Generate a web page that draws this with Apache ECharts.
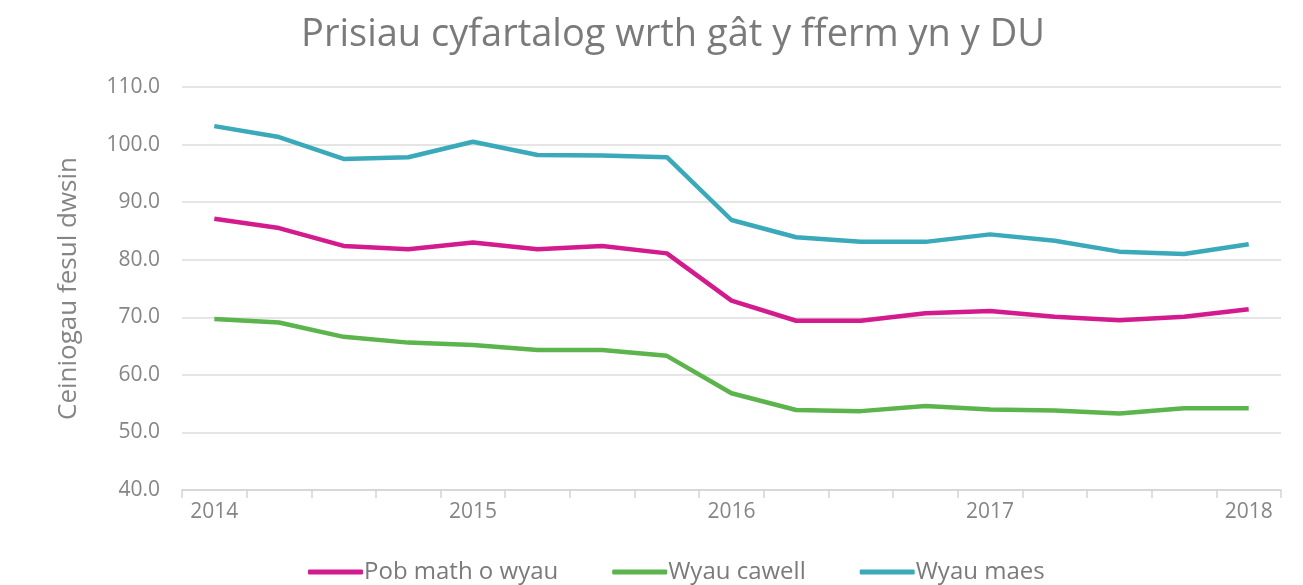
<!DOCTYPE html>
<html>
<head>
<meta charset="utf-8">
<script src="https://cdn.jsdelivr.net/npm/echarts@6/dist/echarts.min.js"></script>
<style>
html,body{margin:0;padding:0;background:#fff;}
#c{width:1303px;height:585px;}
</style>
</head>
<body>
<div id="c"></div>
<script>
const categories = ['2014 Q1','2014 Q2','2014 Q3','2014 Q4','2015 Q1','2015 Q2','2015 Q3','2015 Q4','2016 Q1','2016 Q2','2016 Q3','2016 Q4','2017 Q1','2017 Q2','2017 Q3','2017 Q4','2018 Q1'];
const yearLabels = ['2014','','','','2015','','','','2016','','','','2017','','','','2018'];
const seriesNames = ['Pob math o wyau','Wyau cawell','Wyau maes'];
const pobMath = [87.1,85.5,82.4,81.8,83.0,81.8,82.4,81.1,72.9,69.4,69.4,70.7,71.1,70.1,69.5,70.1,71.4];
const cawell = [69.7,69.1,66.6,65.6,65.2,64.3,64.3,63.3,56.8,53.9,53.7,54.6,54.0,53.8,53.3,54.2,54.2];
const maes = [103.2,101.3,97.5,97.8,100.5,98.2,98.1,97.8,86.9,83.9,83.1,83.1,84.4,83.3,81.4,81.0,82.7];

const colors = ['#d41b8d','#5bb44c','#3aa9ba'];
const font = '"Open Sans", sans-serif';

const chart = echarts.init(document.getElementById('c'));
chart.setOption({
  animation:false,
  color: colors,
  title:{
    text:'Prisiau cyfartalog wrth gât y fferm yn y DU',
    left:668, textAlign:'center', top:11,
    textStyle:{fontFamily:font, fontSize:38, fontWeight:'normal', color:'#7a7a7a'}
  },
  legend:{
    bottom:-4, left:303,
    itemWidth:55, itemHeight:5, itemGap:54,
    icon:'roundRect',
    textStyle:{fontFamily:font, fontSize:24, color:'#7a7a7a', padding:[0,0,0,-4]},
    data: seriesNames
  },
  grid:{left:182, right:22, top:87, bottom:95},
  xAxis:{
    type:'category',
    data: categories,
    boundaryGap:true,
    axisLine:{lineStyle:{color:'#d4d4d4', width:1.5}},
    axisTick:{show:true, interval:0, length:8, lineStyle:{color:'#d4d4d4', width:1.5}},
    axisLabel:{
      interval:0, margin:12,
      fontFamily:font, fontSize:21, color:'#858585',
      formatter:(v,i)=>yearLabels[i]
    }
  },
  yAxis:{
    type:'value', min:40, max:110, interval:10,
    name:'Ceiniogau fesul dwsin',
    nameLocation:'middle', nameGap:100,
    nameTextStyle:{fontFamily:font, fontSize:26, color:'#858585'},
    axisLine:{show:false}, axisTick:{show:false},
    splitLine:{lineStyle:{color:'#dcdcdc', width:1.5}},
    axisLabel:{fontFamily:font, fontSize:21, color:'#858585', margin:22, formatter:v=>v.toFixed(1)}
  },
  series:[
    {name:seriesNames[0], type:'line', data:pobMath, symbol:'none', lineStyle:{width:4.5}},
    {name:seriesNames[1], type:'line', data:cawell, symbol:'none', lineStyle:{width:4.5}},
    {name:seriesNames[2], type:'line', data:maes, symbol:'none', lineStyle:{width:4.5}}
  ]
});
</script>
</body>
</html>
